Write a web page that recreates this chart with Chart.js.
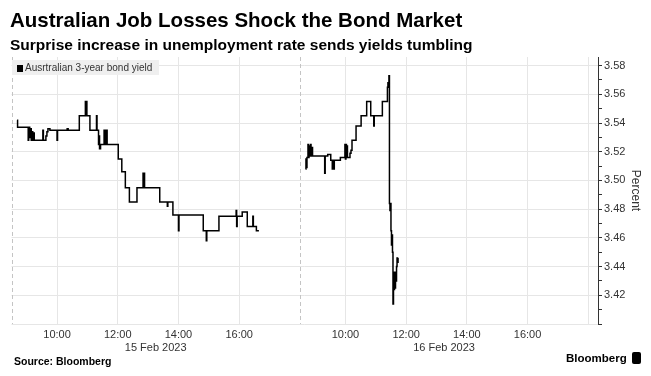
<!DOCTYPE html>
<html>
<head>
<meta charset="utf-8">
<script src="https://cdn.jsdelivr.net/npm/chart.js@4.4.0/dist/chart.umd.min.js"></script>
<style>
  body { margin: 0; background: #fff; font-family: "Liberation Sans", Arial, sans-serif; }
  #wrap { position: relative; width: 651px; height: 376px; overflow: hidden; }
  #chart { position: absolute; left: 0; top: 0; }
  .title { position: absolute; left: 10px; top: 8px; font-size: 20.5px; font-weight: bold; color: #000; white-space: nowrap; }
  .subtitle { position: absolute; left: 10px; top: 36px; font-size: 15.5px; font-weight: bold; color: #000; white-space: nowrap; }
  .legend { position: absolute; left: 12px; top: 60px; width: 147px; height: 15px; line-height: 15px; background: #efefef; font-size: 10px; color: #333; white-space: nowrap; }
  .legend i { display: inline-block; width: 6px; height: 7px; background: #000; margin: 0 2px 0 5px; vertical-align: -1px; }
  .source { position: absolute; left: 14px; top: 355px; font-size: 10.5px; font-weight: bold; color: #000; }
  .brand { position: absolute; left: 566px; top: 352px; font-size: 11.5px; font-weight: bold; color: #000; }
  .brand b { display: inline-block; width: 9px; height: 12px; background: #000; border-radius: 2px; margin-left: 5px; vertical-align: -2px; }
</style>
</head>
<body>
<div id="wrap">
  <canvas id="chart" width="651" height="376"></canvas>
  <div class="title">Australian Job Losses Shock the Bond Market</div>
  <div class="subtitle">Surprise increase in unemployment rate sends yields tumbling</div>
  <div class="legend"><i></i>Ausrtralian 3-year bond yield</div>
  <div class="source">Source: Bloomberg</div>
  <div class="brand">Bloomberg<b></b></div>
</div>
<script>
// ---- data ----
const dateLabels = ['15 Feb 2023', '16 Feb 2023'];
const hourLabels = ['10:00', '12:00', '14:00', '16:00'];
const yLabels = ['3.42', '3.44', '3.46', '3.48', '3.50', '3.52', '3.54', '3.56', '3.58'];

const day1Times = ['08:41','08:42','09:03','09:04','09:06','09:07','09:09','09:10','09:12','09:13','09:15',
  '09:32','09:33','09:38','09:40','09:42','09:46','10:00','10:01','10:20','10:22','10:44','10:56','10:57',
  '10:58','10:59','11:05','11:18','11:19','11:22','11:23','11:24','11:26','11:33','11:34','11:36','11:37',
  '11:38','11:39','12:01','12:08','12:15','12:23','12:38','12:50','12:51','12:52','12:53','13:23','13:38',
  '13:39','13:49','14:00','14:01','14:49','14:55','14:56','15:20','15:54','15:55','15:56','16:06','16:16',
  '16:27','16:28','16:34','16:39'];
const day1Yield = [3.542,3.537,3.528,3.537,3.530,3.536,3.528,3.534,3.528,3.533,3.528,
  3.535,3.528,3.531,3.534,3.536,3.535,3.528,3.535,3.536,3.535,3.545,3.555,3.549,
  3.555,3.545,3.535,3.545,3.535,3.525,3.531,3.522,3.525,3.535,3.525,3.535,3.527,
  3.535,3.525,3.515,3.506,3.495,3.485,3.495,3.505,3.497,3.505,3.495,3.485,3.482,
  3.485,3.476,3.465,3.476,3.465,3.458,3.465,3.475,3.479,3.468,3.475,3.478,3.468,
  3.475,3.468,3.465,3.465];

const day2Times = ['08:41','08:42','08:43','08:44','08:46','08:47','08:48','08:49','08:51','08:52','08:54',
  '08:55','09:19','09:20','09:25','09:31','09:34','09:35','09:37','09:38','09:50','09:59','10:00','10:01',
  '10:02','10:03','10:04','10:09','10:11','10:13','10:21','10:31','10:42','10:50','10:56','10:57','11:13',
  '11:23','11:24','11:25','11:26','11:27','11:28','11:29','11:30','11:31','11:32','11:33','11:34','11:35',
  '11:36','11:37','11:38','11:39','11:40','11:41','11:42','11:43','11:44'];
const day2Yield = [3.508,3.515,3.509,3.516,3.525,3.516,3.524,3.517,3.525,3.517,3.523,
  3.517,3.505,3.517,3.518,3.514,3.508,3.514,3.508,3.514,3.516,3.525,3.515,3.525,
  3.516,3.524,3.516,3.519,3.521,3.528,3.538,3.545,3.555,3.545,3.538,3.545,3.555,
  3.565,3.568,3.566,3.573,3.484,3.479,3.484,3.465,3.455,3.462,3.450,3.414,3.430,
  3.424,3.436,3.425,3.435,3.430,3.440,3.446,3.443,3.446];

// ---- axis helpers ----
const SESSION_OPEN = 8.5;   // sessions shown 08:30 - 18:00
const SESSION_HOURS = 9.5;
const X_MAX = 19.32;

function toX(day, time) {
    const [h, m] = time.split(':').map(Number);
    return day * SESSION_HOURS + h + m / 60 - SESSION_OPEN;
}
function series(day, times, vals) {
    return times.map((t, i) => ({ x: toX(day, t), y: vals[i] }));
}

const xTickValues = [], xTickText = [];
dateLabels.forEach((d, day) => {
    hourLabels.forEach(t => { xTickValues.push(toX(day, t)); xTickText.push(t); });
});
xTickValues.push(toX(1, '18:00')); xTickText.push('');
const dateTickValues = dateLabels.map((d, day) => day * SESSION_HOURS + SESSION_HOURS / 2);

// dashed lines at each session open
const sessionLines = {
    id: 'sessionLines',
    beforeDatasetsDraw(chart) {
        const { ctx, chartArea: { top, bottom }, scales: { x } } = chart;
        ctx.save();
        ctx.strokeStyle = '#c4c4c4';
        ctx.lineWidth = 1;
        ctx.setLineDash([4, 3]);
        [0, SESSION_HOURS].forEach(v => {
            const px = Math.round(x.getPixelForValue(v)) + 0.5;
            ctx.beginPath();
            ctx.moveTo(px, top);
            ctx.lineTo(px, bottom);
            ctx.stroke();
        });
        ctx.restore();
    }
};

const tickFont = { family: '"Liberation Sans", Arial, sans-serif', size: 11 };
const lineStyle = { borderColor: '#000', borderWidth: 1.5, pointRadius: 0, stepped: true, fill: false };

new Chart(document.getElementById('chart'), {
    type: 'line',
    data: {
        datasets: [
            Object.assign({ label: 'Ausrtralian 3-year bond yield', data: series(0, day1Times, day1Yield) }, lineStyle),
            Object.assign({ label: 'Ausrtralian 3-year bond yield', data: series(1, day2Times, day2Yield) }, lineStyle)
        ]
    },
    options: {
        responsive: false,
        animation: false,
        devicePixelRatio: 1,
        layout: { padding: { left: 11.5, right: 6, top: 57, bottom: 18 } },
        plugins: { legend: { display: false }, tooltip: { enabled: false } },
        scales: {
            x: {
                type: 'linear', position: 'bottom', weight: 0, min: 0, max: X_MAX,
                afterBuildTicks: s => { s.ticks = xTickValues.map(v => ({ value: v })); },
                afterFit: s => { s.height = 16; },
                ticks: { autoSkip: false, maxRotation: 0, padding: 4, font: tickFont, color: '#333',
                         callback: (v, i) => xTickText[i] },
                grid: { color: '#e6e6e6', drawTicks: false },
                border: { display: false }
            },
            xDate: {
                type: 'linear', position: 'bottom', weight: 1, min: 0, max: X_MAX,
                afterBuildTicks: s => { s.ticks = dateTickValues.map(v => ({ value: v })); },
                afterFit: s => { s.height = 18; },
                ticks: { autoSkip: false, maxRotation: 0, padding: 1, font: tickFont, color: '#333',
                         callback: (v, i) => dateLabels[i] },
                grid: { display: false, drawTicks: false },
                border: { display: false }
            },
            y: {
                type: 'linear', position: 'right', min: 3.40, max: 3.586,
                afterBuildTicks: s => {
                    const t = [];
                    for (let i = 340; i <= 358; i++) t.push({ value: i / 100 });
                    s.ticks = t;
                },
                afterFit: s => { s.width = 47; },
                ticks: { autoSkip: false, padding: 2, font: tickFont, color: '#333',
                         callback: v => yLabels.includes(v.toFixed(2)) ? v.toFixed(2) : '' },
                grid: {
                    color: c => (c.tick && Math.round(c.tick.value * 100) % 2 === 0) ? '#e6e6e6' : 'rgba(0,0,0,0)',
                    tickColor: '#333', tickLength: 4
                },
                border: { display: true, color: '#333' },
                title: { display: true, text: 'Percent', font: { family: tickFont.family, size: 12 }, color: '#333',
                         padding: { top: 2, bottom: 0 } }
            }
        }
    },
    plugins: [sessionLines]
});
</script>
</body>
</html>
